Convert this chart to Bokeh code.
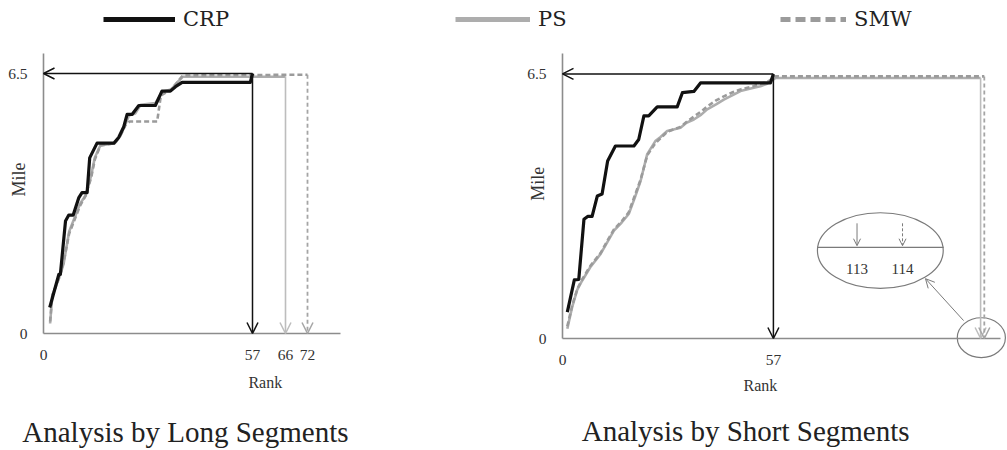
import numpy as np
from bokeh.plotting import figure
from bokeh.layouts import column, row
from bokeh.models import Range1d, FixedTicker, Arrow, OpenHead, Label, Legend, LegendItem
from bokeh.embed import file_html
from bokeh.resources import INLINE

# ---------------- data ----------------
series_names = ["CRP", "PS", "SMW"]
total_mile = 6.5

# Analysis by Long Segments
crp_long_rank = [1.7, 4.2, 4.6, 6.0, 6.9, 8.1, 9.6, 10.5, 11.9, 12.6, 14.6, 19.2, 20.5, 21.9, 22.8, 24.2,
                 26.0, 30.5, 32.3, 34.6, 36.0, 37.8, 56.4, 57.0]
crp_long_mile = [0.65, 1.48, 1.48, 2.81, 2.96, 2.96, 3.39, 3.52, 3.52, 4.39, 4.76, 4.76, 4.90, 5.17, 5.48, 5.48,
                 5.70, 5.70, 6.06, 6.06, 6.17, 6.28, 6.28, 6.5]
ps_long_rank = [1.8, 2.4, 4.5, 5.5, 7.0, 8.5, 10.0, 11.5, 13.0, 14.0, 15.5, 19.5, 21.0, 22.3, 23.3, 25.0,
                26.5, 30.5, 32.5, 34.8, 36.2, 38.0, 66.0]
ps_long_mile = [0.25, 0.95, 1.45, 1.75, 2.55, 2.9, 3.25, 3.45, 3.95, 4.4, 4.7, 4.76, 4.95, 5.22, 5.45, 5.5,
                5.72, 5.76, 6.05, 6.1, 6.25, 6.42, 6.42]
smw_long_rank = [1.8, 2.4, 4.5, 5.5, 7.0, 8.5, 10.0, 11.5, 13.0, 14.0, 15.5, 19.5, 21.0, 22.3, 23.5, 31.0,
                 32.0, 34.8, 36.2, 38.0, 72.0]
smw_long_mile = [0.3, 0.95, 1.45, 1.8, 2.5, 2.85, 3.2, 3.45, 3.9, 4.35, 4.7, 4.76, 4.95, 5.2, 5.3, 5.3,
                 5.95, 6.1, 6.25, 6.45, 6.47]
end_rank_long = [57, 66, 72]
x_ticks_long = [0, 57, 66, 72]

# Analysis by Short Segments
crp_short_rank = [1.3, 3.2, 4.4, 5.8, 6.8, 8.0, 9.4, 10.7, 12.2, 14.3, 19.3, 20.6, 22.0, 23.3, 25.6, 31.0,
                  32.4, 35.5, 37.3, 56.2, 57.0]
crp_short_mile = [0.65, 1.44, 1.45, 2.93, 3.0, 3.0, 3.5, 3.55, 4.36, 4.73, 4.73, 4.89, 5.47, 5.47, 5.69, 5.69,
                  6.04, 6.07, 6.28, 6.28, 6.5]
ps_short_rank = [1.3, 2.6, 4.0, 5.3, 7.5, 10.3, 12.0, 13.9, 16.0, 17.9, 19.5, 21.1, 22.9, 25.1, 26.5, 28.3,
                 31.9, 33.5, 35.5, 37.5, 39.1, 41.5, 43.6, 46.0, 48.1, 51.7, 53.5, 55.3, 57.6, 113.0]
ps_short_mile = [0.24, 0.77, 1.2, 1.42, 1.75, 2.08, 2.35, 2.65, 2.85, 3.06, 3.45, 3.87, 4.53, 4.85, 4.95, 5.10,
                 5.18, 5.3, 5.38, 5.5, 5.63, 5.75, 5.87, 5.98, 6.08, 6.16, 6.2, 6.26, 6.40, 6.40]
smw_short_rank = [1.3, 2.6, 4.0, 5.3, 7.5, 10.3, 12.0, 13.9, 16.0, 17.9, 19.5, 21.1, 22.9, 25.1, 26.5, 28.3,
                  31.9, 33.5, 35.5, 37.5, 39.1, 41.5, 43.6, 46.0, 48.1, 51.7, 53.5, 55.3, 57.6, 114.0]
smw_short_mile = [0.3, 0.8, 1.22, 1.45, 1.78, 2.1, 2.38, 2.68, 2.88, 3.1, 3.5, 3.9, 4.5, 4.8, 4.92, 5.08,
                  5.2, 5.32, 5.45, 5.58, 5.7, 5.85, 5.95, 6.05, 6.12, 6.2, 6.26, 6.3, 6.44, 6.44]
end_rank_short = [57, 113, 114]
x_ticks_short = [0, 57]
y_ticks = [0, 6.5]

titles = ["Analysis by Long Segments", "Analysis by Short Segments"]

# ---------------- styles ----------------
CRP_C = "#111111"
PS_C = "#adadad"
SMW_C = "#9b9b9b"
AXIS_C = "#8c8c8c"
TXT_C = "#333333"
SERIF = "Liberation Serif"
TITLE_FONT = "Liberation Serif"
LEGEND_FONT = "DejaVu Serif"


def make_panel(width, height, origin_px, px_per_rank, px_per_mile, x_end, y_end, xticks):
    ox, oy = origin_px  # pixel position of (0, 0) inside the canvas (from left, from top)
    xr = Range1d(-ox / px_per_rank, (width - ox) / px_per_rank)
    yr = Range1d(-(height - oy) / px_per_mile, oy / px_per_mile)
    p = figure(width=width, height=height, x_range=xr, y_range=yr, min_border=0,
               toolbar_location=None, output_backend="svg")
    p.xaxis.fixed_location = 0
    p.yaxis.fixed_location = 0
    p.xaxis.bounds = (0, x_end)
    p.yaxis.bounds = (0, y_end)
    p.xaxis.ticker = FixedTicker(ticks=xticks)
    p.yaxis.ticker = FixedTicker(ticks=y_ticks)
    for ax in (p.xaxis[0], p.yaxis[0]):
        ax.axis_line_color = AXIS_C
        ax.axis_line_width = 1.6
        ax.major_tick_line_color = None
        ax.minor_tick_line_color = None
        ax.major_label_text_font = SERIF
        ax.major_label_text_font_size = "15.5px"
        ax.major_label_text_color = TXT_C
        ax.major_label_standoff = 10
    p.grid.visible = False
    p.outline_line_color = None
    return p


def draw_series(p, ranks, miles, end_ranks):
    crp_r, ps_r, smw_r = ranks
    crp_m, ps_m, smw_m = miles
    p.line(ps_r, ps_m, line_color=PS_C, line_width=2.6)
    p.line(smw_r, smw_m, line_color=SMW_C, line_width=2.6, line_dash="5 3")
    p.line(crp_r, crp_m, line_color=CRP_C, line_width=3.2, line_join="round")
    p.add_layout(Arrow(end=OpenHead(size=11, line_color=CRP_C, line_width=1.5),
                       x_start=end_ranks[0], y_start=total_mile, x_end=0, y_end=total_mile,
                       line_color=CRP_C, line_width=1.5))
    p.add_layout(Arrow(end=OpenHead(size=11, line_color=CRP_C, line_width=1.5),
                       x_start=end_ranks[0], y_start=total_mile, x_end=end_ranks[0], y_end=0,
                       line_color=CRP_C, line_width=1.5))
    p.add_layout(Arrow(end=OpenHead(size=11, line_color="#bdbdbd", line_width=1.5),
                       x_start=end_ranks[1], y_start=ps_m[-1], x_end=end_ranks[1], y_end=0,
                       line_color="#bdbdbd", line_width=1.6))
    p.add_layout(Arrow(end=OpenHead(size=11, line_color="#a5a5a5", line_width=1.5),
                       x_start=end_ranks[2], y_start=smw_m[-1], x_end=end_ranks[2], y_end=0,
                       line_color="#a5a5a5", line_width=1.8, line_dash="4 3"))


def add_text(p, x, y, text, size, angle=0.0, font=SERIF, color=TXT_C):
    p.add_layout(Label(x=x, y=y, text=text, angle=angle, text_align="center", text_baseline="middle",
                       text_font=font, text_font_size=size, text_color=color))


# ---------------- legend strip ----------------
leg = figure(width=1007, height=38, x_range=Range1d(0, 1), y_range=Range1d(0, 1),
             x_axis_location=None, y_axis_location=None, toolbar_location=None,
             output_backend="svg", min_border=0)
leg.grid.visible = False
leg.outline_line_color = None
r_crp = leg.line(x=[-2, -1], y=[-2, -2], line_color=CRP_C, line_width=5)
r_ps = leg.line(x=[-2, -1], y=[-2, -2], line_color=PS_C, line_width=5)
r_smw = leg.line(x=[-2, -1], y=[-2, -2], line_color=SMW_C, line_width=5, line_dash="10 5")
for r, name, loc, gw in zip([r_crp, r_ps, r_smw], series_names, [(103, 7), (455, 7), (780, 7)], [72, 75, 66]):
    lg = Legend(items=[LegendItem(label=name, renderers=[r])], location=loc, orientation="horizontal",
                glyph_width=gw, glyph_height=24, label_standoff=8, padding=0, margin=0,
                border_line_color=None, background_fill_alpha=0, label_height=24,
                label_text_font=LEGEND_FONT, label_text_font_size="21px", label_text_color="#222222")
    leg.add_layout(lg)

# ---------------- left panel ----------------
p1 = make_panel(500, 412, (43, 295), 297 / 81, 40.0, 81, 7.0, x_ticks_long)
draw_series(p1, (crp_long_rank, ps_long_rank, smw_long_rank),
            (crp_long_mile, ps_long_mile, smw_long_mile), end_rank_long)
add_text(p1, -6.6, 3.85, "Mile", "18px", angle=np.pi / 2)
add_text(p1, 60.5, -1.22, "Rank", "16px")
add_text(p1, 38.7, -2.45, titles[0], "29px", font=TITLE_FONT, color="#222222")

# ---------------- right panel ----------------
p2 = make_panel(507, 412, (62, 300), 3.70, 40.7, 118.4, 7.0, x_ticks_short)
draw_series(p2, (crp_short_rank, ps_short_rank, smw_short_rank),
            (crp_short_mile, ps_short_mile, smw_short_mile), end_rank_short)
add_text(p2, -6.6, 3.8, "Mile", "18px", angle=np.pi / 2)
add_text(p2, 53.5, -1.15, "Rank", "16px")
add_text(p2, 49.5, -2.28, titles[1], "29px", font=TITLE_FONT, color="#222222")

# zoom call-out for ranks 113 / 114
CALL_C = "#7a7a7a"
p2.ellipse(x=[85.9], y=[2.16], width=34, height=1.86, fill_color=None, line_color=CALL_C, line_width=1.2)
p2.ellipse(x=[113.2], y=[0.02], width=13, height=0.98, fill_color=None, line_color=CALL_C, line_width=1.2)
p2.segment(x0=[68.9], y0=[2.24], x1=[103.0], y1=[2.24], line_color=CALL_C, line_width=1.2)
p2.add_layout(Arrow(end=OpenHead(size=7, line_color=CALL_C, line_width=1), x_start=79.6, y_start=2.83,
                    x_end=79.6, y_end=2.28, line_color=CALL_C, line_width=1))
p2.add_layout(Arrow(end=OpenHead(size=7, line_color=CALL_C, line_width=1), x_start=91.9, y_start=2.83,
                    x_end=91.9, y_end=2.28, line_color=CALL_C, line_width=1, line_dash="3 2"))
p2.add_layout(Arrow(end=OpenHead(size=9, line_color=CALL_C, line_width=1), x_start=108.4, y_start=0.44,
                    x_end=98.1, y_end=1.47, line_color=CALL_C, line_width=1))
add_text(p2, 79.6, 1.7, str(end_rank_short[1]), "15px")
add_text(p2, 91.9, 1.7, str(end_rank_short[2]), "15px")

layout = column(leg, row(p1, p2))
open("out.html", "w").write(file_html(layout, INLINE))
